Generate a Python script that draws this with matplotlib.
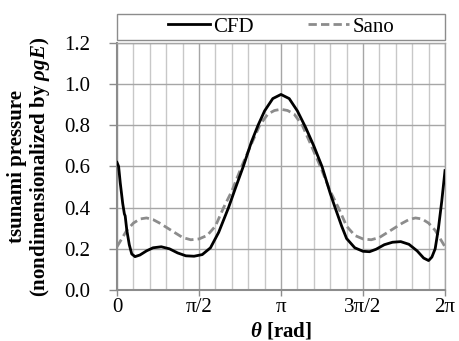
import numpy as np
import matplotlib
matplotlib.use("Agg")
import matplotlib.pyplot as plt
from matplotlib.patches import Rectangle
from matplotlib.ticker import MultipleLocator, FormatStrFormatter

plt.rcParams["font.family"] = ["Liberation Serif", "DejaVu Serif"]
plt.rcParams["mathtext.fontset"] = "custom"
plt.rcParams["mathtext.rm"] = "Liberation Serif"
plt.rcParams["mathtext.it"] = "Liberation Serif:italic"
plt.rcParams["mathtext.bf"] = "Liberation Serif:bold"
plt.rcParams["mathtext.bfit"] = "Liberation Serif:bold:italic"

# angle in units of pi, value nondimensionalized by rho*g*E
cfd_t = [0.0, 0.01, 0.02, 0.035, 0.045, 0.05, 0.06, 0.075, 0.09, 0.11, 0.14,
         0.18, 0.22, 0.27, 0.32, 0.37, 0.42, 0.47, 0.52, 0.57, 0.62, 0.68,
         0.72, 0.77, 0.82, 0.86, 0.90, 0.95, 1.00, 1.05, 1.10, 1.15, 1.20,
         1.25, 1.30, 1.33, 1.37, 1.40, 1.45, 1.50, 1.54, 1.58, 1.63, 1.68,
         1.73, 1.78, 1.83, 1.87, 1.90, 1.92, 1.94, 1.96, 1.98, 2.00]
cfd_p = [0.62, 0.60, 0.52, 0.42, 0.37, 0.36, 0.29, 0.22, 0.175, 0.162, 0.170,
         0.190, 0.205, 0.210, 0.200, 0.180, 0.166, 0.164, 0.172, 0.205, 0.28, 0.40,
         0.49, 0.60, 0.72, 0.80, 0.87, 0.93, 0.95, 0.93, 0.87, 0.79, 0.70,
         0.60, 0.47, 0.40, 0.31, 0.25, 0.205, 0.188, 0.186, 0.198, 0.220, 0.232,
         0.235, 0.222, 0.190, 0.155, 0.143, 0.16, 0.20, 0.30, 0.43, 0.58]

sano_t = [0.0, 0.03, 0.06, 0.10, 0.14, 0.18, 0.22, 0.26, 0.30, 0.35, 0.40,
          0.45, 0.50, 0.55, 0.60, 0.65, 0.70, 0.76, 0.82, 0.87, 0.92, 0.96,
          1.00, 1.04, 1.08, 1.13, 1.18, 1.24, 1.30, 1.35, 1.40, 1.45, 1.50,
          1.55, 1.60, 1.65, 1.70, 1.74, 1.78, 1.82, 1.86, 1.90, 1.94, 1.97, 2.00]
sano_p = [0.21, 0.25, 0.29, 0.325, 0.345, 0.350, 0.342, 0.325, 0.305, 0.280, 0.255,
          0.244, 0.248, 0.265, 0.31, 0.40, 0.48, 0.60, 0.71, 0.80, 0.855, 0.872,
          0.878, 0.872, 0.855, 0.80, 0.71, 0.60, 0.48, 0.40, 0.31, 0.265, 0.248,
          0.244, 0.255, 0.280, 0.305, 0.325, 0.342, 0.350, 0.345, 0.325, 0.29, 0.25, 0.21]

xtick_labels = ["0", "π/2", "π", "3π/2", "2π"]

fig = plt.figure(figsize=(4.6, 3.41), dpi=100)
ax = fig.add_axes([0.2543, 0.1496, 0.7131, 0.7243])

ax.plot(np.pi * np.array(cfd_t), cfd_p, color="black", lw=2.0, label="CFD", zorder=4)
ax.plot(np.pi * np.array(sano_t), sano_p, color="#8c8c8c", lw=2.0,
        dashes=(3, 1.5), label="Sano", zorder=3)

ax.set_xlim(0, 2 * np.pi)
ax.set_ylim(0, 1.2)
ax.set_xticks(np.arange(5) * np.pi / 2)
ax.set_xticklabels(xtick_labels)
ax.xaxis.set_minor_locator(MultipleLocator(np.pi / 10))
ax.yaxis.set_major_locator(MultipleLocator(0.2))
ax.yaxis.set_major_formatter(FormatStrFormatter("%.1f"))

ax.grid(which="minor", axis="x", color="#c8c8c8", lw=1.0)
ax.grid(which="major", axis="x", color="#a6a6a6", lw=1.0)
ax.grid(which="major", axis="y", color="#a6a6a6", lw=1.0)
ax.set_axisbelow(True)

ax.tick_params(axis="both", which="major", labelsize=15, direction="out",
               color="#8c8c8c", length=6, width=1.0)
ax.tick_params(axis="y", pad=13)
ax.tick_params(axis="x", pad=2, length=4)
ax.tick_params(which="minor", length=0)

for side in ["left", "bottom"]:
    ax.spines[side].set_color("#8c8c8c")
    ax.spines[side].set_linewidth(1.5)
for side in ["top", "right"]:
    ax.spines[side].set_color("#a6a6a6")
    ax.spines[side].set_linewidth(1.0)

ax.set_ylabel("tsunami pressure\n(nondimensionalized by $\\mathbfit{\\rho gE}$)",
              fontsize=15, fontweight="bold", linespacing=1.05)
ax.yaxis.set_label_coords(-0.198, 0.5)
ax.set_xlabel("$\\mathbfit{\\theta}$ [rad]", fontsize=15, fontweight="bold")
ax.xaxis.set_label_coords(0.5, -0.122)

# legend box above the plot area
box = Rectangle((0.2543, 0.8827), 0.7131, 0.0762, transform=fig.transFigure,
                fill=False, edgecolor="#8c8c8c", lw=1.0)
fig.add_artist(box)
fig.legend(loc="center", bbox_to_anchor=(0.611, 0.921), ncol=2, frameon=False,
           fontsize=15, handlelength=2.0, handletextpad=0.15, columnspacing=2.6,
           borderpad=0.0)

fig.savefig("out.png", dpi=100)
